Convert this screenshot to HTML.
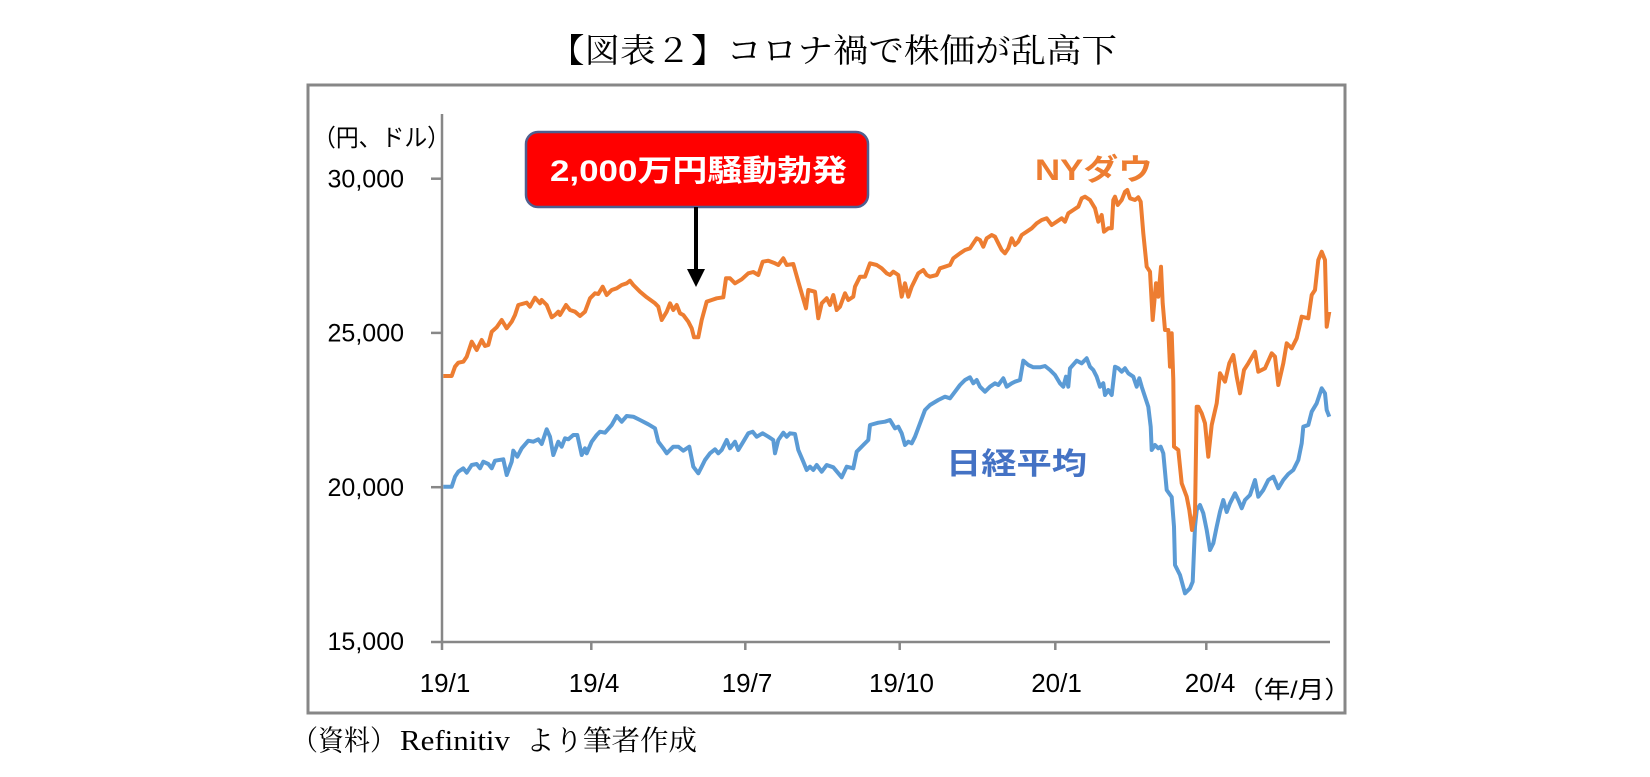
<!DOCTYPE html>
<html><head><meta charset="utf-8"><style>
html,body{margin:0;padding:0;background:#fff;}
svg{display:block;}
</style></head><body>
<svg width="1650" height="777" viewBox="0 0 1650 777" xmlns="http://www.w3.org/2000/svg">
<rect width="1650" height="777" fill="#fff"/>
<text x="549" y="62" font-family="'Liberation Serif','Noto Serif CJK SC',serif" font-size="33" fill="#000" textLength="568" lengthAdjust="spacingAndGlyphs">【図表２】コロナ禍で株価が乱高下</text>
<rect x="308" y="85" width="1037" height="628" fill="none" stroke="#878787" stroke-width="3"/>
<line x1="442" y1="114" x2="442" y2="642" stroke="#878787" stroke-width="2.5"/>
<line x1="431" y1="642" x2="1330" y2="642" stroke="#878787" stroke-width="2.5"/>
<g stroke="#878787" stroke-width="2.5">
<line x1="431" y1="178.7" x2="442" y2="178.7"/>
<line x1="431" y1="332.9" x2="442" y2="332.9"/>
<line x1="431" y1="487.2" x2="442" y2="487.2"/>
<line x1="442" y1="642" x2="442" y2="650"/>
<line x1="591.3" y1="642" x2="591.3" y2="650"/>
<line x1="745.3" y1="642" x2="745.3" y2="650"/>
<line x1="899.7" y1="642" x2="899.7" y2="650"/>
<line x1="1055.3" y1="642" x2="1055.3" y2="650"/>
<line x1="1206.3" y1="642" x2="1206.3" y2="650"/>
</g>
<g font-family="'Liberation Sans','Noto Sans CJK JP',sans-serif" font-size="25" fill="#000" text-anchor="end">
<text x="404" y="187.5">30,000</text>
<text x="404" y="341.5">25,000</text>
<text x="404" y="496">20,000</text>
<text x="404" y="650">15,000</text>
</g>
<text x="313" y="146" font-family="'Liberation Sans','Noto Sans CJK JP',sans-serif" font-size="24" fill="#000" textLength="137" lengthAdjust="spacingAndGlyphs">（円、ドル）</text>
<g font-family="'Liberation Sans','Noto Sans CJK JP',sans-serif" font-size="26" fill="#000" text-anchor="middle">
<text x="445" y="692">19/1</text>
<text x="594" y="692">19/4</text>
<text x="747" y="692">19/7</text>
<text x="901.5" y="692">19/10</text>
<text x="1056.5" y="692">20/1</text>
<text x="1210" y="692">20/4</text>
</g>
<text x="1237" y="698" font-family="'Liberation Sans','Noto Sans CJK JP',sans-serif" font-size="24" fill="#000" textLength="114" lengthAdjust="spacingAndGlyphs">（年/月）</text>

<polyline fill="none" stroke="#5B9BD5" stroke-width="4" stroke-linejoin="round" points="443.3,486.7 451.7,486.7 455,476.7 458.3,471.7 463.3,468.3 466.7,472.7 471.7,465 476.7,464 480,468.3 483.3,461.7 488.3,464 491.7,468.3 495,460.7 503.3,459.3 506.7,475 511.7,461.7 513.3,450.7 517.3,456.7 521.7,448.3 528.3,440.7 533.3,441.7 538.3,439.3 541.7,444 546.7,429.3 550,436.7 553.3,455 558.3,441.7 561.7,446.7 565,438.3 568.3,439.3 573.3,435 577.3,435 581.7,455 585,448.3 586.7,453.3 591.7,441.7 596.7,435 600,431.7 605,432.7 611.7,425 616.7,416 621.7,421.7 626.7,416 633.3,416.7 640,420 648.3,424.3 655,428.3 658.3,441.7 663.3,448.3 666.7,453.3 670,450 673.3,446.7 678.3,446.7 683.3,450.7 689.3,446.7 693.3,466.7 698.3,473.3 701.7,466.7 705,460 710,453.3 715,449.3 718.3,453.3 721.7,450 726.7,440 730,448.3 735,441.7 738.3,450 743.3,441.7 748.3,433.3 752.7,431.7 756.7,436.7 762.7,433.3 768.3,436.7 773.3,440 775,453.3 778.3,440 783.3,432.7 786.7,436.7 790,433.3 795,434 798.3,450 803.3,461.7 806.7,470 810,466.7 813.3,470 816.7,465 821.7,471.7 826.7,465 833.3,467.3 841.7,477.3 846.7,466.7 853.3,468.3 856.7,451.7 863.3,445 868.3,440 870,425 878.3,422.7 885,421.7 890,420 895,428.3 898.3,426.7 901.7,433.3 905,445 908.3,441.7 911.7,443.3 915,436.7 920,423.3 925,410 930,405 938.3,400 945,396.7 950,398.3 955,391.7 960,385 965,380 970,377.3 973.3,383.3 976.7,380 980,386.7 985,391.7 990,386.7 995,383.3 998.3,385 1003.3,378.3 1006.7,386.7 1011.7,383.3 1015,381.7 1020,380 1023.3,360.7 1028.3,365 1033.3,367.3 1040,367.3 1045,366 1050,370 1055,375 1060,383.3 1063.3,386.7 1066,376.7 1068.3,386.7 1070,368.3 1076.7,360.7 1081.7,363.3 1086.7,358.3 1090,366.7 1093.3,370 1096.7,376.7 1100,386.7 1103.3,383.3 1105,395 1108.3,390 1111.7,395 1115,366.7 1118.3,368.3 1121.7,371.7 1125,368.3 1128.3,373.3 1133.3,376.7 1136.7,386.7 1139.3,378.3 1141.7,386.7 1145,396.7 1148.3,406.7 1150.7,426.7 1151.7,450 1155,445 1158.3,448.3 1160.7,446.7 1163.3,453.3 1166.7,490 1171.7,497 1174,526.7 1175,565 1180,575 1185,593.3 1190,588.3 1192.7,581.7 1195,526.7 1196.7,510 1200,505 1203.3,513.3 1206.7,530 1210,550 1213.3,543.3 1216.7,526.7 1220,511.7 1223.3,500 1226.7,512 1230,503.3 1235,493.3 1238.3,500 1241.7,508.3 1245,500 1250,495 1255,480 1258.3,496.7 1263.3,490 1268.3,480 1273.3,476.7 1278.3,488.3 1283.3,480 1288.3,474 1293.3,470 1298.3,460 1301.7,443.3 1303.3,426.7 1308.3,425 1311.7,411.7 1316.7,403.3 1321.7,388.3 1325,393.3 1326.7,410 1329.3,416.7"/>

<polyline fill="none" stroke="#ED7D31" stroke-width="4" stroke-linejoin="round" points="443.3,376 451.7,376 455,366.7 458.3,362.7 463.3,361.7 466.7,356.7 471.7,341.7 476.7,350 481.7,340 485,346 488.3,345 491.7,331.7 496.7,327.3 501.7,320 506.7,328.3 511.7,321.7 515,315 518.3,305 526.7,302.7 530,306.7 535,297.7 540,303.3 541.7,300 546.7,305 551.7,317.3 555,315 558.3,311.7 560,315 566,305 570,310 575,311.7 580,316 585,311.7 590,298.3 595,293.3 598.3,294 602.7,286.7 606.7,295 611.7,290 616.7,288.3 621.7,285 626.7,283.3 630,280.7 633.3,285 640,291.7 646.7,297.3 655,303.3 658.3,306.7 661.7,320 666.7,311.7 670,303.3 673.3,310 676.7,305 680,313.3 683.3,315 688.3,321.7 691.7,328.3 694,337.3 698.3,337.3 701.7,320 706.7,301.7 711.7,300 716.7,298.3 723.3,297.3 726,278.3 730,278.3 735,283.3 741.7,279.3 748.3,273.3 753.3,272 758.3,275 762.7,261.7 768.3,260.7 775,263.3 778.3,265 783.3,258.3 786.7,265 793.3,264 798.3,281.7 806,308.3 808.3,290 815,291.7 818.3,318.3 821.7,303.3 826.7,298.3 830,305 833.3,295 836.7,310 840,306.7 845,293.3 848.3,300 853.3,296.7 855,286.7 860,276.7 865,276.7 870,263.3 876.7,265 881.7,268.3 886.7,273.3 890,275 893.3,271.7 898.3,275 901.7,296.7 905,283.3 908.3,296.7 911.7,286.7 918.3,273.3 923.3,270 926.7,275 930,276.7 936.7,275 940,268.3 945,266.7 950,265 953.3,258.3 960,253.3 965,250 970,248.3 973.3,243.3 976.7,238.3 980,240 983.3,246.7 986.7,238.3 991.7,235 995,236.7 998.3,243.3 1001.7,250 1005,253.3 1008.3,248.3 1011.7,238.3 1015,245 1018.3,241.7 1021.7,235 1026.7,231.7 1031.7,228.3 1036.7,223.3 1041.7,220 1046.7,218.3 1051.7,225 1056.7,221.7 1061.7,218.3 1065,221.7 1068.3,213.3 1073.3,210 1078.3,206.7 1081.7,198.3 1085,196.7 1090,200 1095,208.3 1098.3,221.7 1101.7,215 1104,231.7 1108.3,228.3 1111.7,228.3 1113.3,200 1115,196.7 1117.7,205 1121.7,200 1125,191.7 1127.3,190 1130,198.3 1135,200 1138.3,197.3 1140.7,201.7 1143.3,233.3 1146.7,266.7 1150,271.7 1152.7,320 1156,283.3 1158.3,296.7 1161,266.7 1162.7,303.3 1165,330 1168.3,330 1170,366.7 1171.7,333.3 1173.3,380 1174,446.7 1178.3,450 1181.7,483.3 1186.7,496.7 1189.3,510 1192,530 1195,513.3 1196.7,406.7 1198.3,406.7 1201.7,413.3 1205,423.3 1208.3,456.7 1211.7,425 1216.7,403.3 1220,373.3 1225,381.7 1229.3,363.3 1233.3,355 1236.7,376.7 1240,393.3 1244,370 1248.3,363.3 1255,351.7 1258.3,371.7 1265,368.3 1271.7,353.3 1275,356.7 1278.3,385 1283.3,363.3 1286.7,343.3 1291.7,348.3 1296.7,338.3 1301.7,316.7 1308.3,318.3 1311.7,295 1315,290 1318.3,260 1321.7,251.7 1325,260 1326.7,326.7 1329.3,311.7"/>

<rect x="526" y="132" width="342" height="75" rx="12" ry="12" fill="#FF0000" stroke="#4F5F8F" stroke-width="2.5"/>
<text x="550" y="181" font-family="'Liberation Sans','Noto Sans CJK JP',sans-serif" font-size="30" font-weight="bold" fill="#fff" textLength="297" lengthAdjust="spacingAndGlyphs">2,000万円騒動勃発</text>
<line x1="696" y1="207" x2="696" y2="272" stroke="#000" stroke-width="4"/>
<polygon points="687,269 705,269 696,287" fill="#000"/>

<text x="1035" y="180" font-family="'Liberation Sans','Noto Sans CJK JP',sans-serif" font-size="30" font-weight="bold" fill="#ED7D31" textLength="118" lengthAdjust="spacingAndGlyphs">NYダウ</text>
<text x="946" y="474" font-family="'Liberation Sans','Noto Sans CJK JP',sans-serif" font-size="30" font-weight="bold" fill="#4472C4" textLength="141" lengthAdjust="spacingAndGlyphs">日経平均</text>

<text x="292" y="750" font-family="'Liberation Serif','Noto Serif CJK SC',serif" font-size="28" fill="#000" textLength="104" lengthAdjust="spacingAndGlyphs">（資料）</text>
<text x="400" y="750" font-family="'Liberation Serif','Noto Serif CJK SC',serif" font-size="28" fill="#000" textLength="110" lengthAdjust="spacingAndGlyphs">Refinitiv</text>
<text x="526" y="750" font-family="'Liberation Serif','Noto Serif CJK SC',serif" font-size="28" fill="#000" textLength="171" lengthAdjust="spacingAndGlyphs">より筆者作成</text>
</svg>
</body></html>
